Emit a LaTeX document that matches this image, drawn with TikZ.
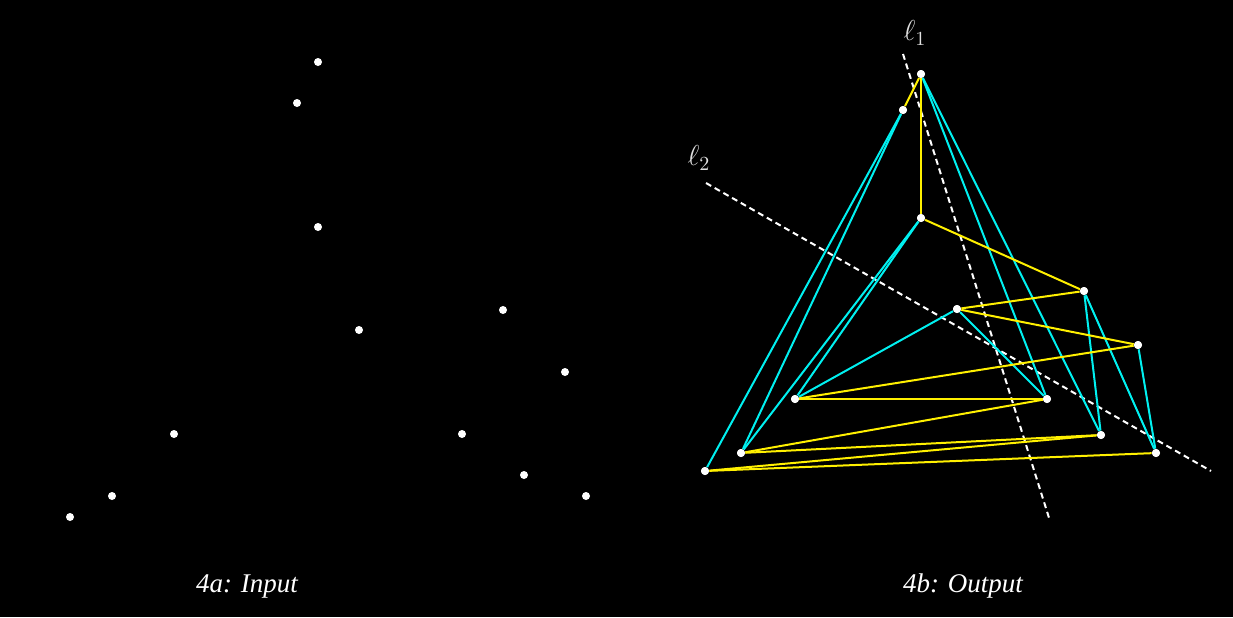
\documentclass[tikz,border=0pt]{standalone}
\usepackage{fontspec}
\setmainfont{Liberation Serif}
\usetikzlibrary{calc}

\tikzset{
  pt/.style={circle,fill=white,inner sep=0pt,minimum size=4pt},
  cyanedge/.style={draw={rgb,255:red,0;green,240;blue,240},line width=1pt},
  yellowedge/.style={draw={rgb,255:red,255;green,240;blue,0},line width=1pt},
  splitline/.style={draw=white,line width=1pt,dash pattern=on 3pt off 2pt},
  linelabel/.style={text=white!88!black,font=\fontsize{14}{16}\selectfont},
  caption/.style={text=white,font=\fontsize{13.5}{16}\selectfont\itshape}
}

\begin{document}
\begin{tikzpicture}[x=0.5pt,y=-0.5pt]
    % Background
    \fill[black] (0,0) rectangle (1233,617);
    \useasboundingbox (0,0) rectangle (1233,617);

    % Input points
    \foreach \x/\y [count=\i] in {318/62,297/103,318/227,359/330,503/310,565/372,
                                  174/434,462/434,112/496,524/475,586/496,70/517}
        \node[pt] (in\i) at (\x,\y) {};

    % Output points
    \node[pt] (a) at (921,74) {};
    \node[pt] (b) at (903,110) {};
    \node[pt] (c) at (921,218) {};
    \node[pt] (d) at (1084,291) {};
    \node[pt] (e) at (957,309) {};
    \node[pt] (f) at (1138,345) {};
    \node[pt] (g) at (795,399) {};
    \node[pt] (h) at (1047,399) {};
    \node[pt] (i) at (1101,435) {};
    \node[pt] (j) at (741,453) {};
    \node[pt] (k) at (1156,453) {};
    \node[pt] (l) at (705,471) {};

    % Dividing lines
    \coordinate (l1s) at (903,54);
    \coordinate (l1e) at (1050,521);
    \coordinate (l2s) at (706,183);
    \coordinate (l2e) at (1211,471);
    \draw[splitline] (l1s) -- (l1e);
    \draw[splitline] (l2s) -- (l2e);
    \node[linelabel] (l1lab) at (915,33) {$\ell_1$};
    \node[linelabel] (l2lab) at (699,158) {$\ell_2$};

    % Cyan edges
    \foreach \p/\q in {b/l,b/j,c/g,c/j,e/g,e/h,a/h,a/i,d/i,d/k,f/k}
        \draw[cyanedge] (\p) -- (\q);

    % Yellow path
    \foreach \p/\q in {a/b,a/c,c/d,d/e,e/f,f/g,g/h,h/j,j/i,i/l,l/k}
        \draw[yellowedge] (\p) -- (\q);

    % Points on top
    \foreach \n in {a,b,c,d,e,f,g,h,i,j,k,l}
        \node[pt] at (\n) {};

    % Captions
    \node[caption] (capa) at (247,586) {4a: Input};
    \node[caption] (capb) at (963,586) {4b: Output};
\end{tikzpicture}
\end{document}
